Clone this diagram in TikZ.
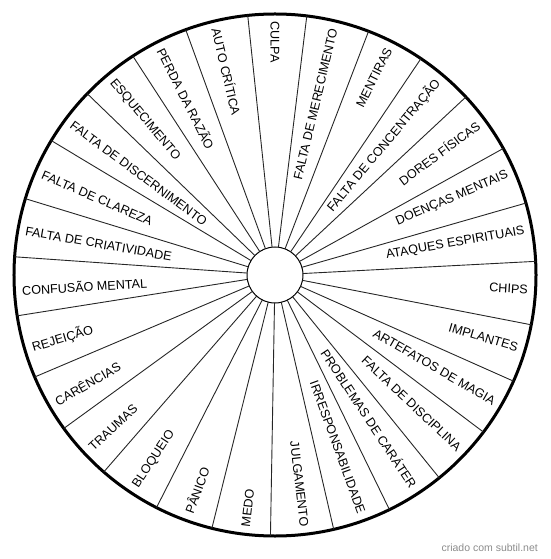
\documentclass[tikz,border=0pt]{standalone}
\usepackage{fontspec}
\setmainfont{Liberation Sans}
\begin{document}
\begin{tikzpicture}[x=1pt,y=1pt,
  lbl/.style={inner sep=0pt, font=\fontsize{12.6}{14}\selectfont},
  spoke/.style={line width=0.9pt, draw=black!85}]
\useasboundingbox (-275,-284) rectangle (275,275);
\node[circle, draw, line width=1pt, minimum size=56pt, inner sep=0pt, outer sep=0pt] (hub) at (0,0) {};
\node[circle, draw, line width=3pt, minimum size=522pt, inner sep=0pt, outer sep=0pt] (rim) at (0,0) {};
\foreach \k in {0,...,26}{
  \pgfmathsetmacro\b{96.6667+13.3333*\k}
  \draw[spoke] (hub.\b) -- (rim.\b);
}
\foreach \t [count=\i from 0] in {CULPA,FALTA DE MERECIMENTO,MENTIRAS,FALTA DE CONCENTRAÇÃO,DORES FÍSICAS,DOENÇAS MENTAIS,ATAQUES ESPIRITUAIS,CHIPS,IMPLANTES,ARTEFATOS DE MAGIA,FALTA DE DISCIPLINA,PROBLEMAS DE CARÁTER,IRRESPONSABILIDADE,JULGAMENTO,MEDO,PÂNICO,BLOQUEIO,TRAUMAS,CARÊNCIAS,REJEIÇÃO,CONFUSÃO MENTAL,FALTA DE CRIATIVIDADE,FALTA DE CLAREZA,FALTA DE DISCERNIMENTO,ESQUECIMENTO,PERDA DA RAZÃO,AUTO CRÍTICA}{
  \pgfmathsetmacro\a{90-13.3333*\i}
  \pgfmathsetmacro\r{\a+180}
  \pgfmathparse{(\a>-90)&&(\a<89)?1:0}
  \ifnum\pgfmathresult=1
    \node[lbl, rotate=\a, anchor=east] (l\i) at (\a:253.5) {\t};
  \else
    \node[lbl, rotate=\r, anchor=west] (l\i) at (\a:253.5) {\t};
  \fi
}
\node[anchor=east, inner sep=0pt, text=black!45, font=\fontsize{10.5}{12}\selectfont] (wm) at (263,-273) {criado com subtil.net};
\end{tikzpicture}
\end{document}
